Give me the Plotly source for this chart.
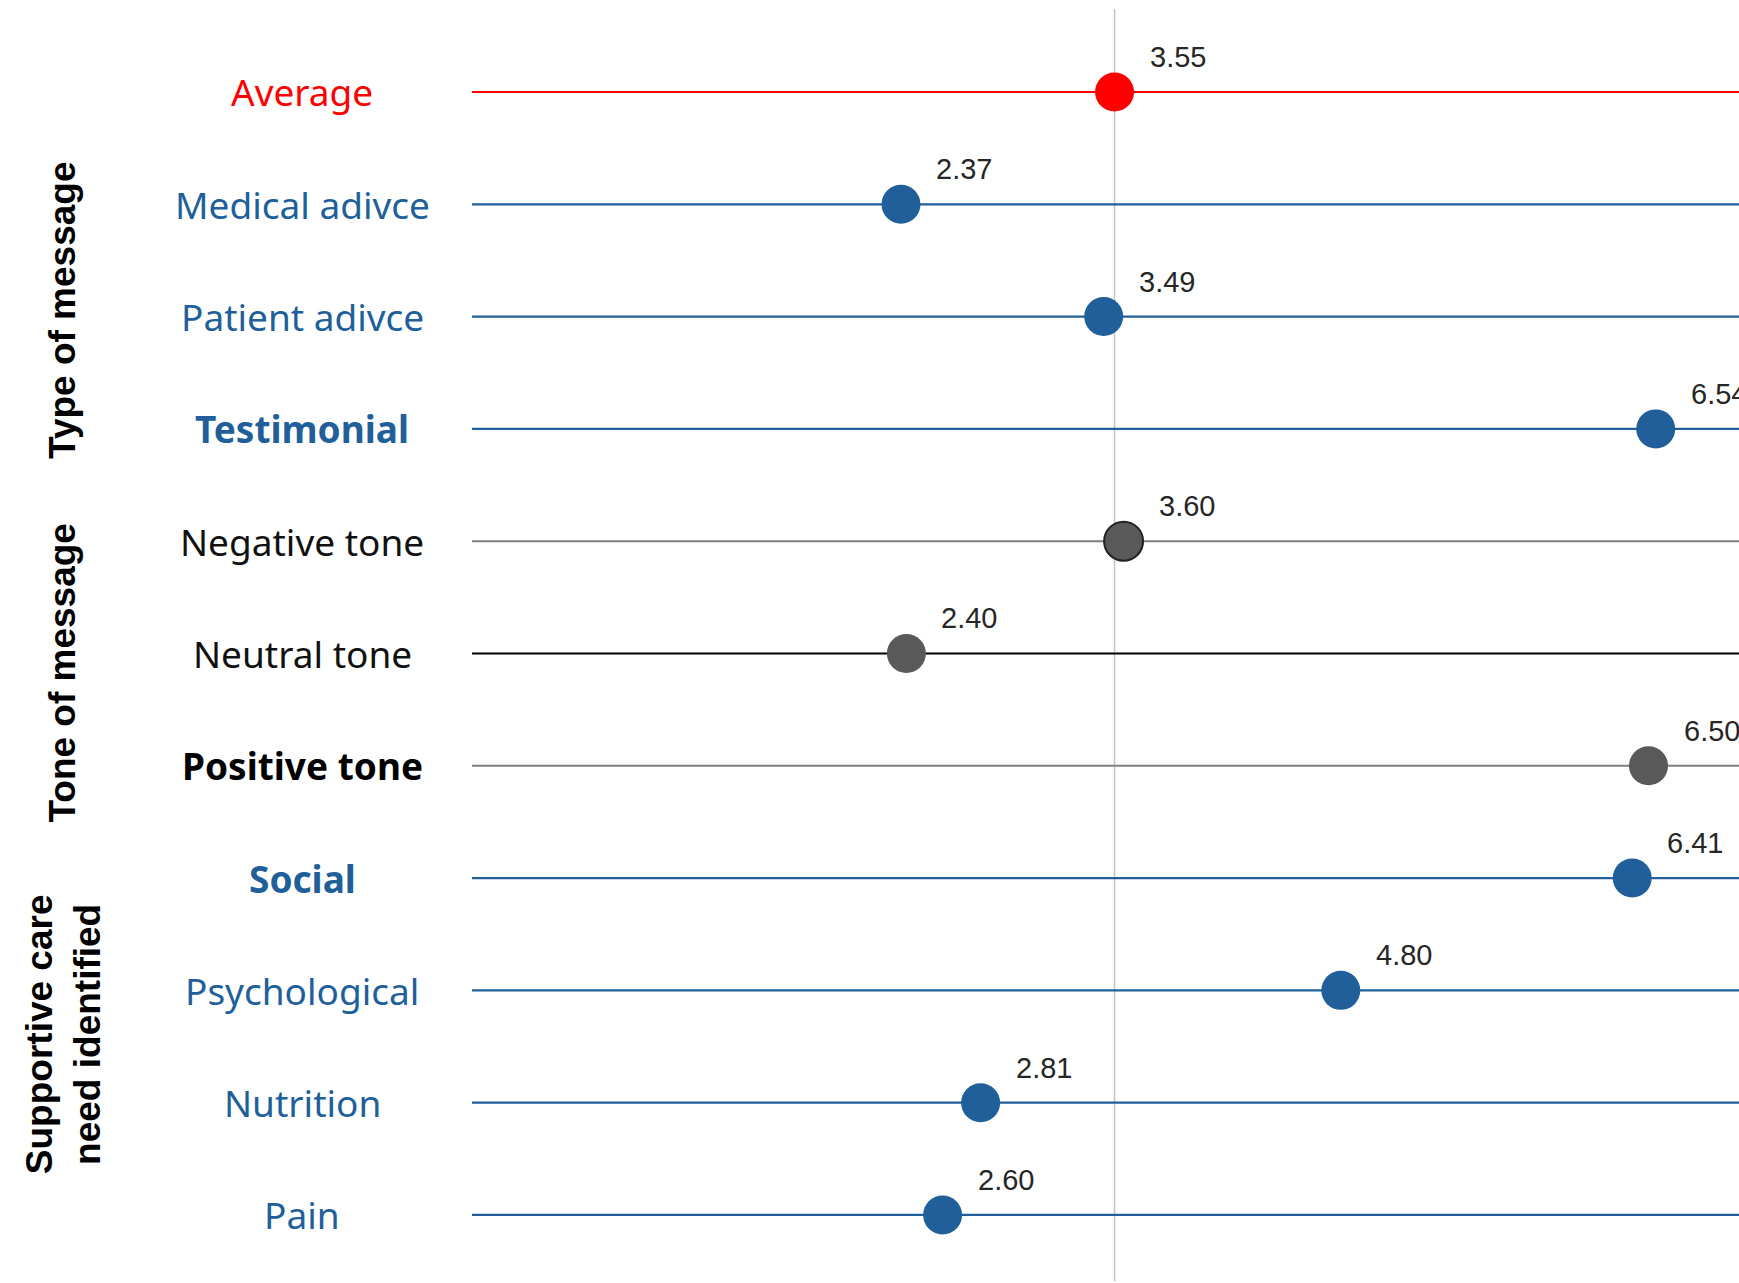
import plotly.graph_objects as go

# ---------------- data ----------------
categories = ["Average", "Medical adivce", "Patient adivce", "Testimonial",
              "Negative tone", "Neutral tone", "Positive tone",
              "Social", "Psychological", "Nutrition", "Pain"]
values = [3.55, 2.37, 3.49, 6.54, 3.60, 2.40, 6.50, 6.41, 4.80, 2.81, 2.60]
group_names = ["Type of message", "Tone of message", "Supportive care<br>need identified"]
group_centers = [1.95, 5.17, 8.39]  # row positions the group titles are centred on
x_range = [0, 7]

# ---------------- styles ----------------
RED = "#FF0000"
BLUE = "#215F9A"
GRAY = "#595959"
style = {
    "Average":        dict(text=RED,  bold=False, line=RED,       lw=2.2, dot=RED,  outline=None),
    "Medical adivce": dict(text=BLUE, bold=False, line=BLUE,      lw=2.2, dot=BLUE, outline=None),
    "Patient adivce": dict(text=BLUE, bold=False, line=BLUE,      lw=2.2, dot=BLUE, outline=None),
    "Testimonial":    dict(text=BLUE, bold=True,  line=BLUE,      lw=2.2, dot=BLUE, outline=None),
    "Negative tone":  dict(text="#111111", bold=False, line="#7F7F7F", lw=2.0, dot=GRAY, outline="#222222"),
    "Neutral tone":   dict(text="#111111", bold=False, line="#000000", lw=2.0, dot=GRAY, outline=None),
    "Positive tone":  dict(text="#000000", bold=True,  line="#7F7F7F", lw=2.0, dot=GRAY, outline=None),
    "Social":         dict(text=BLUE, bold=True,  line=BLUE,      lw=2.2, dot=BLUE, outline=None),
    "Psychological":  dict(text=BLUE, bold=False, line=BLUE,      lw=2.2, dot=BLUE, outline=None),
    "Nutrition":      dict(text=BLUE, bold=False, line=BLUE,      lw=2.2, dot=BLUE, outline=None),
    "Pain":           dict(text=BLUE, bold=False, line=BLUE,      lw=2.2, dot=BLUE, outline=None),
}

LABEL_FONT = "Noto Sans"
VALUE_FONT = "Liberation Sans"
GROUP_FONT = "Liberation Sans"

W, H = 1739, 1283
ML, MR, MT, MB = 472, 0, 9, 2
plot_w = W - ML - MR

fig = go.Figure()

# horizontal lines
for i, cat in enumerate(categories):
    s = style[cat]
    fig.add_trace(go.Scatter(
        x=x_range, y=[i, i], mode="lines",
        line=dict(color=s["line"], width=s["lw"]),
        hoverinfo="skip", showlegend=False, cliponaxis=False))

# dots
for i, (cat, v) in enumerate(zip(categories, values)):
    s = style[cat]
    mline = dict(color=s["outline"], width=2) if s["outline"] else dict(width=0)
    fig.add_trace(go.Scatter(
        x=[v], y=[i], mode="markers",
        marker=dict(size=39, color=s["dot"], line=mline),
        showlegend=False, cliponaxis=False))

# vertical reference line at the average
fig.add_shape(type="line", xref="x", yref="paper",
              x0=values[0], x1=values[0], y0=0, y1=1,
              line=dict(color="#C4C4C4", width=1.5), layer="below")

annotations = []
# value labels
for i, v in enumerate(values):
    annotations.append(dict(
        x=v, y=i, xref="x", yref="y", text=f"{v:.2f}", showarrow=False,
        xanchor="left", yanchor="middle", xshift=33, yshift=35,
        font=dict(family=VALUE_FONT, size=29, color="#262626")))

# category labels
label_x = (302 - ML) / plot_w
for i, cat in enumerate(categories):
    s = style[cat]
    txt = f"<b>{cat}</b>" if s["bold"] else cat
    annotations.append(dict(
        x=label_x, y=i, xref="paper", yref="y", text=txt, showarrow=False,
        xanchor="center", yanchor="middle",
        font=dict(family=LABEL_FONT, size=37, color=s["text"])))

# group titles
group_x = (63 - ML) / plot_w
for name, yc in zip(group_names, group_centers):
    annotations.append(dict(
        x=group_x, y=yc, xref="paper", yref="y", text=f"<b>{name}</b>",
        showarrow=False, textangle=-90, xanchor="center", yanchor="middle",
        font=dict(family=GROUP_FONT, size=37, color="#000000")))

fig.update_layout(
    width=W, height=H,
    margin=dict(l=ML, r=MR, t=MT, b=MB),
    paper_bgcolor="white", plot_bgcolor="white",
    xaxis=dict(range=x_range, visible=False, showgrid=False, zeroline=False),
    yaxis=dict(range=[10.588, -0.739], visible=False, showgrid=False, zeroline=False),
    annotations=annotations,
    showlegend=False,
)

fig.write_html("out.html")
